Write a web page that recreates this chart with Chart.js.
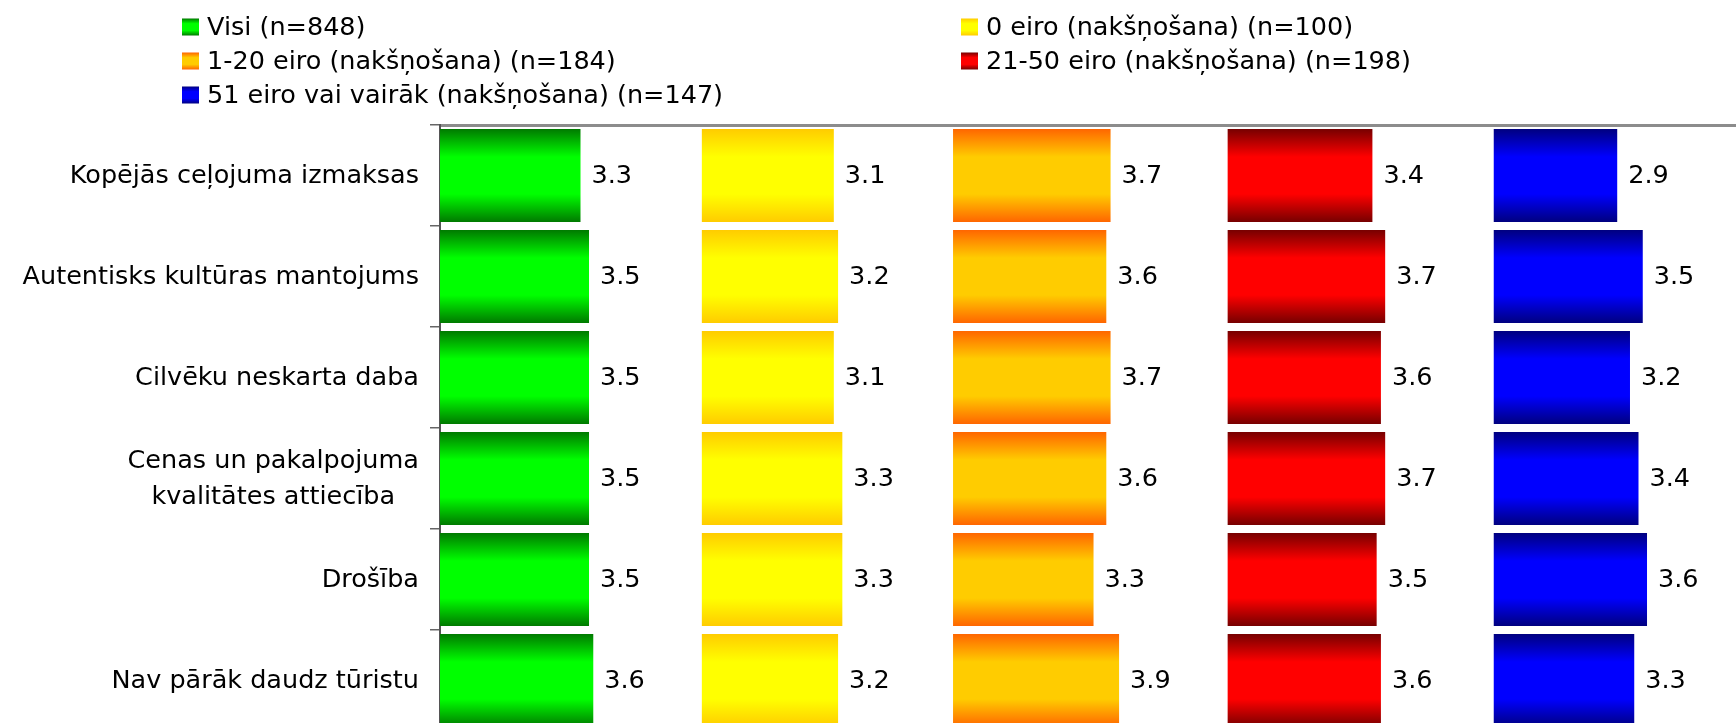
<!DOCTYPE html>
<html>
<head>
<meta charset="utf-8">
<title>Faktoru novērtējums</title>
<script src="https://cdn.jsdelivr.net/npm/chart.js@4.4.1/dist/chart.umd.min.js"></script>
<style>
  html, body { margin: 0; padding: 0; background: #fff; overflow: hidden; }
  #wrap { position: relative; width: 1736px; height: 731px; }
</style>
</head>
<body>
<div id="wrap"><canvas id="chart"></canvas></div>
<script>
// Categories, top to bottom
const categories = [
    'Kopējās ceļojuma izmaksas',
    'Autentisks kultūras mantojums',
    'Cilvēku neskarta daba',
    ['Cenas un pakalpojuma', 'kvalitātes attiecība'],
    'Drošība',
    'Nav pārāk daudz tūristu'
];

const seriesLabels = [
    'Visi (n=848)',
    '0 eiro (nakšņošana) (n=100)',
    '1-20 eiro (nakšņošana) (n=184)',
    '21-50 eiro (nakšņošana) (n=198)',
    '51 eiro vai vairāk (nakšņošana) (n=147)'
];

// Average scores per group
const visi = [3.3, 3.5, 3.5, 3.5, 3.5, 3.6];
const eiro0 = [3.1, 3.2, 3.1, 3.3, 3.3, 3.2];
const eiro1to20 = [3.7, 3.6, 3.7, 3.6, 3.3, 3.9];
const eiro21to50 = [3.4, 3.7, 3.6, 3.7, 3.5, 3.6];
const eiro51plus = [2.9, 3.5, 3.2, 3.4, 3.6, 3.3];

const groups = [visi, eiro0, eiro1to20, eiro21to50, eiro51plus];

// Layout: where each group's panel starts on the value axis
const panelStart = [0, 6.15, 12.05, 18.5, 24.75];
const xMax = 30.44;
const BAR_PCT = 0.92;

// [edge colour, centre colour] for the vertical gradients
const barColors = [
    ['#007a00', '#00ff00'],
    ['#ffcc00', '#ffff00'],
    ['#ff6600', '#ffcc00'],
    ['#770000', '#ff0000'],
    ['#000080', '#0000ff']
];

const FONT = '"DejaVu Sans", sans-serif';
const FONT_SIZE = 25.5;
const LINE_H = 36.5;

function vGradient(ctx, top, bottom, stops) {
    const g = ctx.createLinearGradient(0, top, 0, bottom);
    g.addColorStop(0, stops[0]);
    g.addColorStop(0.3, stops[1]);
    g.addColorStop(0.7, stops[1]);
    g.addColorStop(1, stops[0]);
    return g;
}

function barFill(i) {
    return function(context) {
        const chart = context.chart;
        const y = chart.scales.y;
        if (context.type !== 'data' || !y || !chart.chartArea) return barColors[i][1];
        const center = y.getPixelForValue(context.dataIndex);
        const half = (y.height / categories.length) * BAR_PCT / 2;
        if (!Number.isFinite(center) || !Number.isFinite(half) || half <= 0) {
            return barColors[i][1];
        }
        return vGradient(chart.ctx, center - half, center + half, barColors[i]);
    };
}

// Numbers to the right of each bar
const valueLabels = {
    id: 'valueLabels',
    afterDatasetsDraw(chart) {
        const ctx = chart.ctx;
        ctx.save();
        ctx.font = FONT_SIZE + 'px ' + FONT;
        ctx.fillStyle = '#000';
        ctx.textAlign = 'left';
        ctx.textBaseline = 'middle';
        chart.data.datasets.forEach((ds, i) => {
            chart.getDatasetMeta(i).data.forEach((bar, j) => {
                ctx.fillText(groups[i][j].toFixed(1), bar.x + 11, bar.y + 1);
            });
        });
        ctx.restore();
    }
};

// Category names: block right-aligned to the axis, lines centred within the block
const categoryLabels = {
    id: 'categoryLabels',
    afterDraw(chart) {
        const ctx = chart.ctx;
        const y = chart.scales.y;
        const right = chart.chartArea.left - 21;
        ctx.save();
        ctx.font = FONT_SIZE + 'px ' + FONT;
        ctx.fillStyle = '#000';
        ctx.textAlign = 'center';
        ctx.textBaseline = 'middle';
        chart.data.labels.forEach((cat, i) => {
            const lines = Array.isArray(cat) ? cat : [cat];
            const w = Math.max(...lines.map(l => ctx.measureText(l).width));
            const cx = right - w / 2;
            const yc = y.getPixelForValue(i);
            lines.forEach((l, k) => {
                ctx.fillText(l, cx, yc + 1 + (k - (lines.length - 1) / 2) * LINE_H);
            });
        });
        ctx.restore();
    }
};

// Two-column legend at the top
const legendGrid = {
    id: 'legendGrid',
    afterDraw(chart) {
        const ctx = chart.ctx;
        const colX = [182, 961];
        ctx.save();
        ctx.font = FONT_SIZE + 'px ' + FONT;
        ctx.textAlign = 'left';
        ctx.textBaseline = 'middle';
        chart.data.datasets.forEach((ds, i) => {
            const x = colX[i % 2];
            const yc = 27 + Math.floor(i / 2) * 34;
            ctx.fillStyle = vGradient(ctx, yc - 8.5, yc + 8.5, barColors[i]);
            ctx.fillRect(x, yc - 8.5, 17, 17);
            ctx.fillStyle = '#000';
            ctx.fillText(ds.label, x + 25, yc + 1);
        });
        ctx.restore();
    }
};

const ctx = document.getElementById('chart');

new Chart(ctx, {
    type: 'bar',
    data: {
        labels: categories,
        datasets: groups.map((vals, i) => ({
            label: seriesLabels[i],
            data: vals.map(v => [panelStart[i], panelStart[i] + v]),
            backgroundColor: barFill(i),
            borderWidth: 0,
            grouped: false,
            barPercentage: BAR_PCT,
            categoryPercentage: 1
        }))
    },
    options: {
        indexAxis: 'y',
        responsive: true,
        maintainAspectRatio: false,
        animation: false,
        layout: {
            padding: { top: 125, left: 0, right: 0, bottom: 0 }
        },
        plugins: {
            legend: { display: false },
            tooltip: { enabled: false }
        },
        scales: {
            x: {
                type: 'linear',
                position: 'top',
                min: 0,
                max: xMax,
                ticks: { display: false },
                grid: { display: false, drawTicks: false },
                border: { display: true, color: '#8c8c8c', width: 3 },
                afterFit: function(scale) { scale.height = 0; }
            },
            y: {
                type: 'category',
                position: 'left',
                ticks: { display: false },
                grid: {
                    drawOnChartArea: false,
                    offset: true,
                    tickLength: 10,
                    color: '#666',
                    lineWidth: 1.5
                },
                border: { display: true, color: '#555', width: 2 },
                afterFit: function(scale) { scale.width = 440; }
            }
        }
    },
    plugins: [valueLabels, categoryLabels, legendGrid]
});
</script>
</body>
</html>
